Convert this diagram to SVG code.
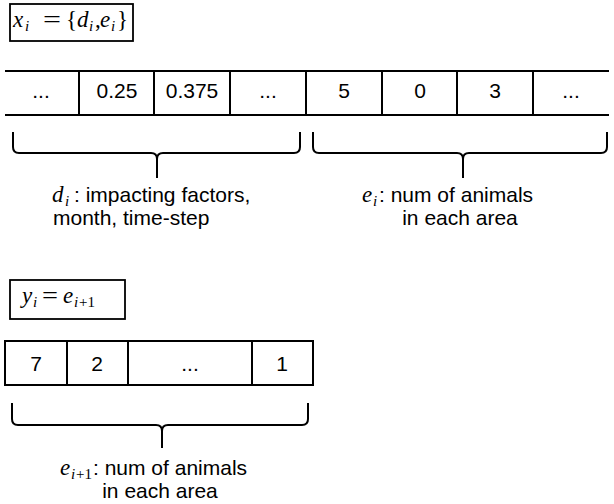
<svg xmlns="http://www.w3.org/2000/svg" width="614" height="504" viewBox="0 0 614 504">
<style>
.ln{stroke:#000;stroke-width:2;fill:none}
.bx{stroke:#000;stroke-width:1.8;fill:#fff}
.cell{font-family:"Liberation Sans",Arial,sans-serif;font-size:21px;fill:#000;text-anchor:middle}
.lbl{font-family:"Liberation Sans",Arial,sans-serif;font-size:21px;fill:#000}
.m{font-family:"Liberation Serif","Times New Roman",serif;font-style:italic;font-size:23px}
.mr{font-family:"Liberation Serif","Times New Roman",serif;font-style:normal;font-size:23px}
.sub{font-size:15px}
.brace{stroke:#000;stroke-width:2;fill:none}
</style>
<rect width="614" height="504" fill="#fff"/>

<g id="x-def">
<rect class="bx" x="10" y="4" width="123" height="37"/>
<text class="m" x="13" y="27">x</text>
<text class="m sub" x="25" y="31">i</text>
<text class="mr" x="43" y="27" textLength="18" lengthAdjust="spacingAndGlyphs">=</text>
<text class="mr" x="66" y="27">{</text>
<text class="m" x="77" y="27">d</text>
<text class="m sub" x="89" y="31">i</text>
<text class="mr" x="95" y="27">,</text>
<text class="m" x="100" y="27">e</text>
<text class="m sub" x="111" y="31">i</text>
<text class="mr" x="117" y="27">}</text>
</g>

<g id="x-row">
<line class="ln" x1="5" y1="71" x2="609" y2="71"/>
<line class="ln" x1="5" y1="115" x2="609" y2="115"/>
<line class="ln" x1="79" y1="71" x2="79" y2="115"/>
<line class="ln" x1="154" y1="71" x2="154" y2="115"/>
<line class="ln" x1="230" y1="71" x2="230" y2="115"/>
<line class="ln" x1="306" y1="71" x2="306" y2="115"/>
<line class="ln" x1="382" y1="71" x2="382" y2="115"/>
<line class="ln" x1="457" y1="71" x2="457" y2="115"/>
<line class="ln" x1="533" y1="71" x2="533" y2="115"/>
<text class="cell" x="41" y="98">...</text>
<text class="cell" x="117" y="98">0.25</text>
<text class="cell" x="192" y="98">0.375</text>
<text class="cell" x="268" y="98">...</text>
<text class="cell" x="344" y="98">5</text>
<text class="cell" x="420" y="98">0</text>
<text class="cell" x="495" y="98">3</text>
<text class="cell" x="571" y="98">...</text>
</g>

<g id="d-brace">
<path class="brace" d="M13,132 L13,147 Q13,153 19,153 L151,153 Q157,153 157,159 L157,178 M157,159 Q157,153 163,153 L294,153 Q300,153 300,147 L300,132"/>
<text class="m" x="52" y="202">d</text>
<text class="m sub" x="65" y="206">i</text>
<text class="lbl" x="74" y="202">: impacting factors,</text>
<text class="lbl" x="53" y="225">month, time-step</text>
</g>

<g id="e-brace">
<path class="brace" d="M313,132 L313,147 Q313,153 319,153 L457,153 Q463,153 463,159 L463,178 M463,159 Q463,153 469,153 L601,153 Q607,153 607,147 L607,132"/>
<text class="m" x="362" y="202">e</text>
<text class="m sub" x="373" y="206">i</text>
<text class="lbl" x="379" y="202">: num of animals</text>
<text class="lbl" x="460" y="225" text-anchor="middle">in each area</text>
</g>

<g id="y-def">
<rect class="bx" x="10" y="280" width="115" height="39"/>
<text class="m" x="22" y="303">y</text>
<text class="m sub" x="33" y="307">i</text>
<text class="mr" x="42" y="303" textLength="16" lengthAdjust="spacingAndGlyphs">=</text>
<text class="m" x="63" y="303">e</text>
<text class="m sub" x="74" y="307">i</text>
<text class="mr sub" x="79" y="307">+1</text>
</g>

<g id="y-row">
<rect class="ln" x="5" y="341" width="308" height="44"/>
<line class="ln" x1="67" y1="341" x2="67" y2="385"/>
<line class="ln" x1="128" y1="341" x2="128" y2="385"/>
<line class="ln" x1="252" y1="341" x2="252" y2="385"/>
<text class="cell" x="36" y="371">7</text>
<text class="cell" x="97" y="371">2</text>
<text class="cell" x="190" y="371">...</text>
<text class="cell" x="282" y="371">1</text>
</g>

<g id="y-brace">
<path class="brace" d="M12,403 L12,419 Q12,425 18,425 L156,425 Q162,425 162,431 L162,448 M162,431 Q162,425 168,425 L302,425 Q308,425 308,419 L308,403"/>
<text class="m" x="60" y="475">e</text>
<text class="m sub" x="71" y="479">i</text>
<text class="mr sub" x="76" y="479">+1</text>
<text class="lbl" x="93" y="475">: num of animals</text>
<text class="lbl" x="160" y="498" text-anchor="middle">in each area</text>
</g>
</svg>
